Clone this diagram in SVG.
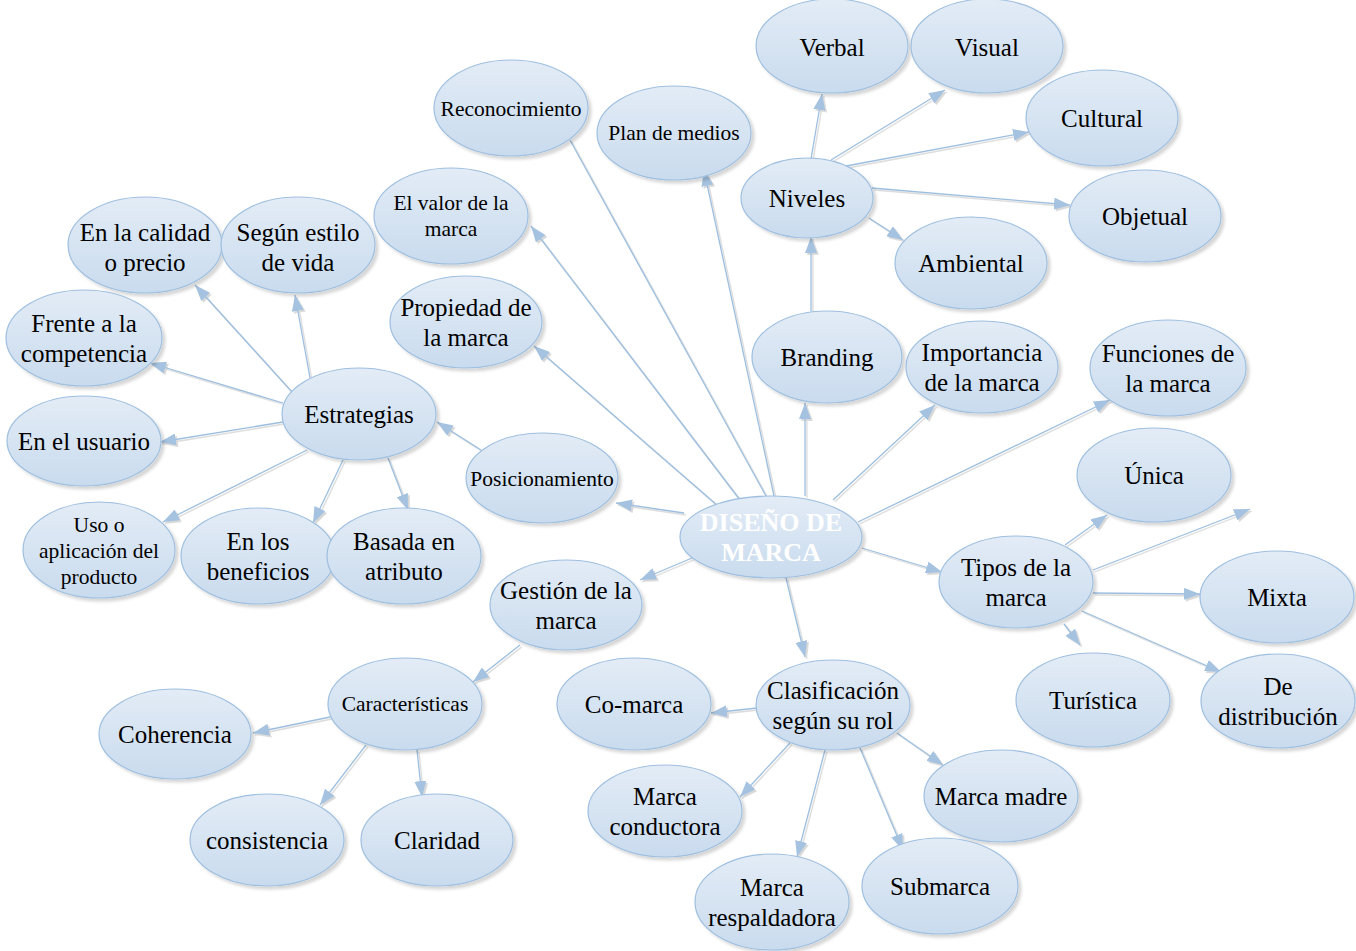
<svg xmlns="http://www.w3.org/2000/svg" width="1356" height="951" viewBox="0 0 1356 951">
<defs>
<linearGradient id="g" x1="0" y1="0" x2="0" y2="1">
<stop offset="0" stop-color="#e3ecf6"/>
<stop offset="1" stop-color="#c9dbee"/>
</linearGradient>
<filter id="sh" x="-10%" y="-10%" width="125%" height="130%">
<feDropShadow dx="3" dy="3" stdDeviation="1.5" flood-color="#000" flood-opacity="0.16"/>
</filter>
<filter id="lsh" x="-5%" y="-5%" width="110%" height="110%">
<feDropShadow dx="1.8" dy="1.8" stdDeviation="0.4" flood-color="#8a8a8a" flood-opacity="0.35"/>
</filter>
<marker id="ah" markerUnits="userSpaceOnUse" markerWidth="16" markerHeight="12" refX="16" refY="6" orient="auto">
<path d="M0,0 L16,6 L0,12 Z" fill="#a5c3e0"/>
</marker>
</defs>
<style>
ellipse{fill:url(#g);stroke:#9ebfdf;stroke-width:1.2;filter:url(#sh)}
text{font-family:"Liberation Serif","Times New Roman",serif;font-size:25px;fill:#000;text-anchor:middle;dominant-baseline:central}
text.s{font-size:21.5px}
text.main{font-weight:bold;fill:#fff;font-size:26px}
#edges line{stroke:#9dbfdf;stroke-width:1.3}
#edges line.a{marker-end:url(#ah)}
#edges{filter:url(#lsh)}
</style>
<rect width="1356" height="951" fill="#fff"/>
<g id="edges">
<line x1="766" y1="496" x2="570" y2="140"/>
<line class="a" x1="774" y1="496" x2="704" y2="170"/>
<line class="a" x1="740" y1="500" x2="531" y2="226"/>
<line class="a" x1="718" y1="506" x2="534" y2="346"/>
<line class="a" x1="684" y1="513" x2="616" y2="503"/>
<line class="a" x1="481" y1="450" x2="437" y2="422"/>
<line class="a" x1="805" y1="496" x2="805" y2="403"/>
<line class="a" x1="811" y1="311" x2="811" y2="237"/>
<line class="a" x1="811" y1="159" x2="822" y2="94"/>
<line class="a" x1="831" y1="160" x2="945" y2="90"/>
<line class="a" x1="846" y1="166" x2="1029" y2="132"/>
<line class="a" x1="872" y1="188" x2="1070" y2="205"/>
<line class="a" x1="869" y1="218" x2="903" y2="240"/>
<line class="a" x1="833" y1="500" x2="935" y2="405"/>
<line class="a" x1="858" y1="522" x2="1110" y2="400"/>
<line class="a" x1="862" y1="548" x2="942" y2="572"/>
<line class="a" x1="1065" y1="545" x2="1107" y2="515"/>
<line class="a" x1="1093" y1="570" x2="1250" y2="509"/>
<line class="a" x1="1093" y1="593" x2="1200" y2="594"/>
<line class="a" x1="1064" y1="624" x2="1080" y2="645"/>
<line class="a" x1="1082" y1="611" x2="1221" y2="672"/>
<line class="a" x1="786" y1="578" x2="805" y2="657"/>
<line class="a" x1="757" y1="708" x2="711" y2="713"/>
<line class="a" x1="790" y1="743" x2="740" y2="797"/>
<line class="a" x1="825" y1="750" x2="797" y2="857"/>
<line class="a" x1="860" y1="748" x2="903" y2="850"/>
<line class="a" x1="897" y1="733" x2="943" y2="765"/>
<line class="a" x1="692" y1="558" x2="640" y2="580"/>
<line class="a" x1="520" y1="645" x2="473" y2="682"/>
<line class="a" x1="330" y1="717" x2="253" y2="733"/>
<line class="a" x1="366" y1="745" x2="320" y2="805"/>
<line class="a" x1="417" y1="750" x2="422" y2="797"/>
<line class="a" x1="292" y1="392" x2="195" y2="285"/>
<line class="a" x1="310" y1="378" x2="295" y2="295"/>
<line class="a" x1="283" y1="403" x2="150" y2="363"/>
<line class="a" x1="283" y1="422" x2="160" y2="442"/>
<line class="a" x1="307" y1="450" x2="163" y2="522"/>
<line class="a" x1="343" y1="460" x2="313" y2="523"/>
<line class="a" x1="388" y1="458" x2="408" y2="510"/>
</g>
<g id="n-diseno"><ellipse cx="771" cy="537" rx="91" ry="41"/><text class="main" x="771" y="522">DISEÑO DE</text><text class="main" x="771" y="552">MARCA</text></g>
<g id="n-reconocimiento"><ellipse cx="511" cy="108" rx="77" ry="48"/><text class="s" x="511" y="109">Reconocimiento</text></g>
<g id="n-plan"><ellipse cx="674" cy="133" rx="77" ry="47"/><text class="s" x="674" y="133">Plan de medios</text></g>
<g id="n-verbal"><ellipse cx="832" cy="46" rx="76" ry="47"/><text x="832" y="47">Verbal</text></g>
<g id="n-visual"><ellipse cx="987" cy="46" rx="76" ry="47"/><text x="987" y="47">Visual</text></g>
<g id="n-cultural"><ellipse cx="1102" cy="118" rx="76" ry="48"/><text x="1102" y="118">Cultural</text></g>
<g id="n-niveles"><ellipse cx="807" cy="198" rx="66" ry="40"/><text x="807" y="198">Niveles</text></g>
<g id="n-objetual"><ellipse cx="1145" cy="216" rx="76" ry="46"/><text x="1145" y="216">Objetual</text></g>
<g id="n-ambiental"><ellipse cx="971" cy="263" rx="76" ry="46"/><text x="971" y="263">Ambiental</text></g>
<g id="n-valor"><ellipse cx="451" cy="216" rx="77" ry="48"/><text class="s" x="451" y="203">El valor de la</text><text class="s" x="451" y="229">marca</text></g>
<g id="n-calidad"><ellipse cx="145" cy="245" rx="77" ry="48"/><text x="145" y="232">En la calidad</text><text x="145" y="262">o precio</text></g>
<g id="n-estilo"><ellipse cx="298" cy="245" rx="77" ry="48"/><text x="298" y="232">Según estilo</text><text x="298" y="262">de vida</text></g>
<g id="n-frente"><ellipse cx="84" cy="338" rx="78" ry="48"/><text x="84" y="323">Frente a la</text><text x="84" y="353">competencia</text></g>
<g id="n-propiedad"><ellipse cx="466" cy="322" rx="76" ry="46"/><text x="466" y="307">Propiedad de</text><text x="466" y="337">la marca</text></g>
<g id="n-branding"><ellipse cx="827" cy="357" rx="75" ry="46"/><text x="827" y="357">Branding</text></g>
<g id="n-importancia"><ellipse cx="982" cy="367" rx="76" ry="46"/><text x="982" y="352">Importancia</text><text x="982" y="382">de la marca</text></g>
<g id="n-funciones"><ellipse cx="1168" cy="368" rx="78" ry="48"/><text x="1168" y="353">Funciones de</text><text x="1168" y="383">la marca</text></g>
<g id="n-estrategias"><ellipse cx="359" cy="414" rx="77" ry="46"/><text x="359" y="414">Estrategias</text></g>
<g id="n-usuario"><ellipse cx="84" cy="441" rx="77" ry="45"/><text x="84" y="441">En el usuario</text></g>
<g id="n-posicionamiento"><ellipse cx="542" cy="478" rx="76" ry="45"/><text class="s" x="542" y="479">Posicionamiento</text></g>
<g id="n-unica"><ellipse cx="1154" cy="475" rx="77" ry="47"/><text x="1154" y="475">Única</text></g>
<g id="n-uso"><ellipse cx="99" cy="550" rx="76" ry="48"/><text class="s" x="99" y="525">Uso o</text><text class="s" x="99" y="551">aplicación del</text><text class="s" x="99" y="577">producto</text></g>
<g id="n-beneficios"><ellipse cx="258" cy="556" rx="77" ry="48"/><text x="258" y="541">En los</text><text x="258" y="571">beneficios</text></g>
<g id="n-basada"><ellipse cx="404" cy="556" rx="77" ry="48"/><text x="404" y="541">Basada en</text><text x="404" y="571">atributo</text></g>
<g id="n-tipos"><ellipse cx="1016" cy="582" rx="77" ry="46"/><text x="1016" y="567">Tipos de la</text><text x="1016" y="597">marca</text></g>
<g id="n-gestion"><ellipse cx="566" cy="605" rx="76" ry="45"/><text x="566" y="590">Gestión de la</text><text x="566" y="620">marca</text></g>
<g id="n-mixta"><ellipse cx="1277" cy="597" rx="77" ry="46"/><text x="1277" y="597">Mixta</text></g>
<g id="n-caracteristicas"><ellipse cx="405" cy="704" rx="77" ry="46"/><text class="s" x="405" y="704">Características</text></g>
<g id="n-comarca"><ellipse cx="634" cy="704" rx="77" ry="46"/><text x="634" y="704">Co-marca</text></g>
<g id="n-clasificacion"><ellipse cx="833" cy="705" rx="77" ry="45"/><text x="833" y="690">Clasificación</text><text x="833" y="720">según su rol</text></g>
<g id="n-turistica"><ellipse cx="1093" cy="700" rx="77" ry="47"/><text x="1093" y="700">Turística</text></g>
<g id="n-distribucion"><ellipse cx="1278" cy="701" rx="77" ry="47"/><text x="1278" y="686">De</text><text x="1278" y="716">distribución</text></g>
<g id="n-coherencia"><ellipse cx="175" cy="734" rx="76" ry="45"/><text x="175" y="734">Coherencia</text></g>
<g id="n-conductora"><ellipse cx="665" cy="811" rx="77" ry="46"/><text x="665" y="796">Marca</text><text x="665" y="826">conductora</text></g>
<g id="n-madre"><ellipse cx="1001" cy="796" rx="77" ry="46"/><text x="1001" y="796">Marca madre</text></g>
<g id="n-consistencia"><ellipse cx="267" cy="840" rx="77" ry="46"/><text x="267" y="840">consistencia</text></g>
<g id="n-claridad"><ellipse cx="437" cy="840" rx="76" ry="46"/><text x="437" y="840">Claridad</text></g>
<g id="n-respaldadora"><ellipse cx="772" cy="902" rx="77" ry="48"/><text x="772" y="887">Marca</text><text x="772" y="917">respaldadora</text></g>
<g id="n-submarca"><ellipse cx="940" cy="886" rx="78" ry="48"/><text x="940" y="886">Submarca</text></g>
</svg>
